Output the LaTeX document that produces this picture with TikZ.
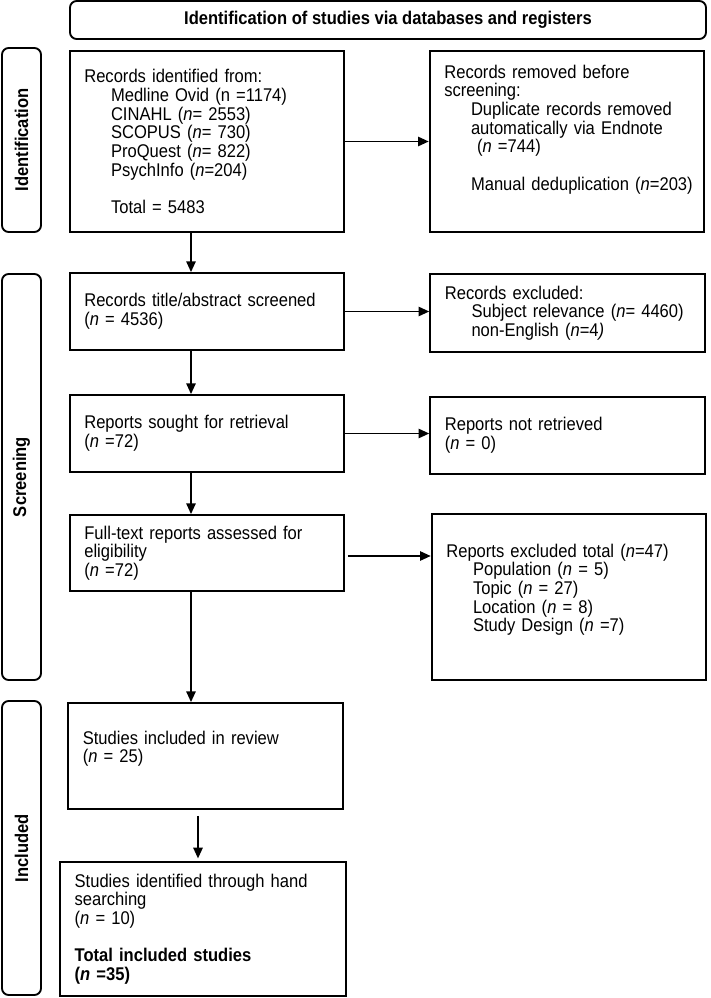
\documentclass[tikz,border=0pt]{standalone}
\usepackage{fontspec}
\setmainfont{Liberation Sans}[FakeStretch=0.9]
\usetikzlibrary{arrows.meta}
\usetikzlibrary{calc}

\newcommand{\ind}{\hspace*{20pt}}

\tikzset{
  box/.style={draw, line width=1.4pt, align=left, text width=184pt, inner xsep=11pt, inner ysep=0pt},
  head/.style={draw, line width=1.4pt, rounded corners=5pt, minimum width=477pt, minimum height=28.5pt, font=\bfseries},
  tab/.style={draw, line width=1.4pt, rounded corners=5pt, minimum width=29.25pt, inner sep=0pt, font=\bfseries},
  arr/.style={-{Triangle[length=8pt,width=7pt]}, line width=1.2pt}
}

\begin{document}
\fontsize{13.8}{14}\selectfont
\begin{tikzpicture}[x=0.75pt,y=-0.75pt]
  \useasboundingbox (0,0) rectangle (710,998);

  \node [head] (head) at (388,20) {Identification of studies via databases and registers};

  \node [tab, minimum height=138pt] (tid) at (21.5,140) {\rotatebox{90}{Identification}};
  \node [tab, minimum height=304.5pt] (tscr) at (21.5,477) {\rotatebox{90}{Screening}};
  \node [tab, minimum height=220.5pt] (tinc) at (21.5,848) {\rotatebox{90}{Included}};

  \node [box, minimum height=135.75pt] (found) at (207,141.5) {Records identified from:\\
    \ind Medline Ovid (n =1174)\\
    \ind CINAHL (\textit{n}= 2553)\\
    \ind SCOPUS (\textit{n}= 730)\\
    \ind ProQuest (\textit{n}= 822)\\
    \ind PsychInfo (\textit{n}=204)\\
    \mbox{}\\
    \ind Total = 5483};
  \node [box, minimum height=135.75pt] (dupl) at (567,141.5) {Records removed before\\
    screening:\\
    \ind\mbox{Duplicate records removed}\\
    \ind\mbox{automatically via Endnote}\\
    \ind\ (\textit{n} =744)\\
    \mbox{}\\
    \ind\mbox{Manual deduplication (\textit{n}=203)}\\[7pt]
    \mbox{}};

  \node [box, minimum height=57.75pt] (screen) at (207,311.5) {Records title/abstract screened\\
    (\textit{n} = 4536)};
  \node [box, minimum height=58.5pt] (excl) at (567.5,313) {Records excluded:\\
    \ind\mbox{Subject relevance (\textit{n}= 4460)}\\
    \ind non-English (\textit{n}=4\textit{)}};

  \node [box, minimum height=57.75pt] (sought) at (207,433.5) {Reports sought for retrieval\\
    (\textit{n} =72)};
  \node [box, minimum height=57.75pt] (notret) at (567.5,435.5) {Reports not retrieved\\
    (\textit{n} = 0)};

  \node [box, minimum height=57pt] (full) at (207,553) {\mbox{Full-text reports assessed for}\\
    eligibility\\
    (\textit{n} =72)};
  \node [box, minimum height=124.5pt] (rexcl) at (569,597) {\mbox{Reports excluded total (\textit{n}=47)}\\
    \ind Population (\textit{n} = 5)\\
    \ind Topic (\textit{n} = 27)\\
    \ind Location (\textit{n} = 8)\\
    \ind Study Design (\textit{n} =7)\\
    \mbox{}};

  \node [box, minimum height=79.5pt] (incl) at (205.5,756) {Studies included in review\\
    (\textit{n} = 25)\\
    \mbox{}};
  \node [box, text width=192.5pt, minimum height=100.5pt] (total) at (203,929) {\mbox{Studies identified through hand}\\
    searching\\
    (\textit{n} = 10)\\
    \mbox{}\\
    \textbf{Total included studies}\\
    \textbf{(\textit{n} =35)}};

  \coordinate (spine) at (191,0);
  \coordinate (spine2) at (198,0);
  \coordinate (gh) at ($ (full.east)+(0,3) $);

  \draw [arr] (found.south -| spine) -- (screen.north -| spine);
  \draw [arr] (screen.south -| spine) -- (sought.north -| spine);
  \draw [arr] (sought.south -| spine) -- (full.north -| spine);
  \draw [arr] (full.south -| spine) -- (incl.north -| spine);
  \draw [arr, shorten <=4.5pt, shorten >=2pt] (incl.south -| spine2) -- (total.north -| spine2);

  \draw [arr] (found) -- (dupl);
  \draw [arr] (screen.east) -- (screen.east -| excl.west);
  \draw [arr] (sought.east) -- (sought.east -| notret.west);
  \draw [arr, shorten <=2pt] (gh) -- (gh -| rexcl.west);
\end{tikzpicture}
\end{document}
